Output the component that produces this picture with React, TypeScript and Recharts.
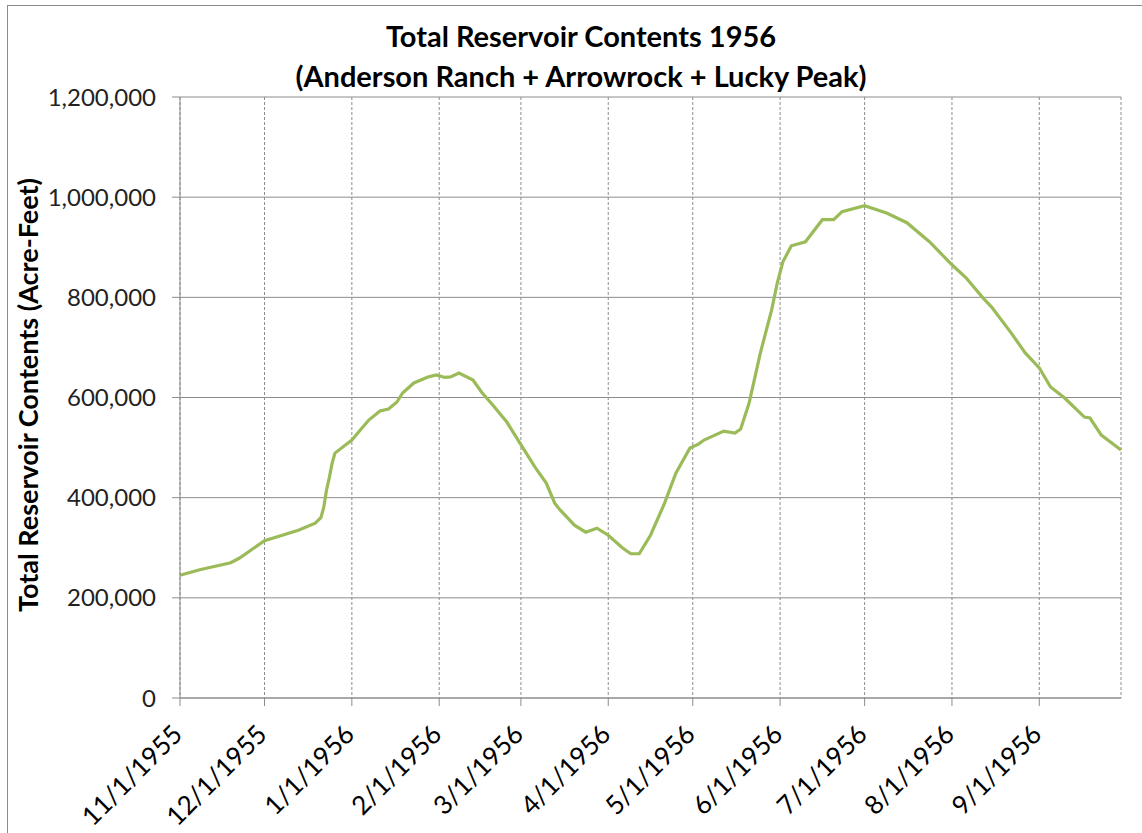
import React from "react";
import { LineChart, Line, XAxis, YAxis, CartesianGrid } from "recharts";

const dates = [
  "11/1/1955", "11/8/1955", "11/19/1955", "11/22/1955", "12/1/1955", "12/13/1955", "12/19/1955",
  "12/21/1955", "12/22/1955", "12/23/1955", "12/24/1955", "12/25/1955", "12/26/1955",
  "1/1/1956", "1/4/1956", "1/7/1956", "1/11/1956", "1/14/1956", "1/17/1956", "1/19/1956",
  "1/23/1956", "1/28/1956", "1/31/1956", "2/3/1956", "2/5/1956", "2/8/1956", "2/13/1956",
  "2/16/1956", "2/20/1956", "2/25/1956", "2/29/1956", "3/6/1956", "3/10/1956", "3/13/1956",
  "3/15/1956", "3/20/1956", "3/24/1956", "3/28/1956", "4/1/1956", "4/6/1956", "4/9/1956",
  "4/12/1956", "4/16/1956", "4/21/1956", "4/25/1956", "4/30/1956", "5/3/1956", "5/5/1956",
  "5/12/1956", "5/16/1956", "5/18/1956", "5/21/1956", "5/25/1956", "5/29/1956", "5/31/1956",
  "6/2/1956", "6/5/1956", "6/10/1956", "6/16/1956", "6/20/1956", "6/23/1956", "7/1/1956",
  "7/9/1956", "7/16/1956", "7/24/1956", "8/1/1956", "8/6/1956", "8/12/1956", "8/15/1956",
  "8/22/1956", "8/27/1956", "9/1/1956", "9/5/1956", "9/10/1956", "9/17/1956", "9/19/1956",
  "9/23/1956", "9/30/1956",
];

const contents = [
  245000, 256000, 270000, 279000, 314000, 335000, 349000,
  360000, 380000, 415000, 440000, 469000, 489000,
  515000, 535000, 555000, 573000, 577000, 591000, 609000,
  629000, 641000, 645000, 640000, 641000, 649000, 635000,
  611000, 585000, 551000, 515000, 461000, 429000, 389000,
  375000, 345000, 331000, 339000, 325000, 300000, 288000,
  288000, 325000, 389000, 449000, 499000, 507000, 515000,
  533000, 529000, 537000, 589000, 689000, 775000, 829000,
  871000, 903000, 911000, 955000, 955000, 971000, 983000,
  968000, 949000, 911000, 865000, 839000, 799000, 781000,
  729000, 689000, 659000, 621000, 599000, 561000, 559000,
  525000, 495000,
];

const monthTicks = [
  "11/1/1955", "12/1/1955", "1/1/1956", "2/1/1956", "3/1/1956", "4/1/1956",
  "5/1/1956", "6/1/1956", "7/1/1956", "8/1/1956", "9/1/1956",
];
const endDate = "9/30/1956";
const yTicks = [0, 200000, 400000, 600000, 800000, 1000000, 1200000];

const title1 = "Total Reservoir Contents 1956";
const title2 = "(Anderson Ranch + Arrowrock + Lucky Peak)";
const yLabel = "Total Reservoir Contents (Acre-Feet)";

const startMs = Date.UTC(1955, 10, 1);
const toDay = (s: string) => {
  const [m, d, y] = s.split("/").map(Number);
  return Math.round((Date.UTC(y, m - 1, d) - startMs) / 86400000);
};

const data = dates.map((d, i) => ({ day: toDay(d), value: contents[i], date: d }));
const tickDays = monthTicks.map(toDay);
const labelByDay: Record<number, string> = {};
monthTicks.forEach((t) => (labelByDay[toDay(t)] = t));

const FONT = "Lato, 'Open Sans', sans-serif";
const LINE_COLOR = "#9BBB59";
const GRID = "#8c8c8c";

const XTick = (props: any) => {
  const { x, y, payload } = props;
  const lx = x + 4;
  const ly = y + 28;
  return (
    <text
      x={lx}
      y={ly}
      transform={`rotate(-45, ${lx}, ${ly})`}
      textAnchor="end"
      fontSize={26}
      fontFamily={FONT}
      fill="#000"
    >
      {labelByDay[payload.value]}
    </text>
  );
};

const fmt = (v: number) => v.toLocaleString("en-US");

export default function App() {
  return (
    <div style={{ position: "absolute", left: 0, top: 0, width: 1142, height: 833, background: "#fff" }}>
      <div
        style={{
          position: "absolute",
          left: 7,
          top: 5,
          width: 1160,
          height: 850,
          border: "1px solid #8c8c8c",
          boxSizing: "border-box",
        }}
      />
      <div
        style={{
          position: "absolute",
          left: 231,
          width: 700,
          top: 16,
          textAlign: "center",
          fontFamily: FONT,
          fontWeight: 700,
          fontSize: 29,
          lineHeight: "40px",
          color: "#000",
        }}
      >
        <div>{title1}</div>
        <div>{title2}</div>
      </div>
      <div
        style={{
          position: "absolute",
          left: 27,
          top: 395,
          transform: "translate(-50%, -50%) rotate(-90deg)",
          whiteSpace: "nowrap",
          fontFamily: FONT,
          fontWeight: 700,
          fontSize: 27,
          color: "#000",
        }}
      >
        {yLabel}
      </div>
      <div style={{ position: "absolute", left: 0, top: 0 }}>
        <LineChart width={1142} height={833} data={data} margin={{ top: 97, right: 21, bottom: 0, left: 0 }}>
          <CartesianGrid horizontal={true} vertical={false} stroke={GRID} strokeWidth={1} />
          <CartesianGrid horizontal={false} vertical={true} stroke={GRID} strokeDasharray="3 2" strokeWidth={1} />
          <XAxis
            type="number"
            dataKey="day"
            domain={[0, toDay(endDate)]}
            ticks={tickDays}
            interval={0}
            height={135}
            tick={<XTick />}
            tickSize={8}
            stroke={GRID}
            axisLine={{ stroke: GRID }}
            tickLine={{ stroke: GRID }}
          />
          <YAxis
            type="number"
            domain={[0, 1200000]}
            ticks={yTicks}
            interval={0}
            width={180}
            tickFormatter={fmt}
            tickSize={8}
            tickMargin={16}
            stroke={GRID}
            tick={{ fill: "#222", fontSize: 24, fontFamily: FONT }}
          />
          <Line
            type="linear"
            dataKey="value"
            stroke={LINE_COLOR}
            strokeWidth={3.2}
            dot={false}
            isAnimationActive={false}
          />
        </LineChart>
      </div>
    </div>
  );
}
